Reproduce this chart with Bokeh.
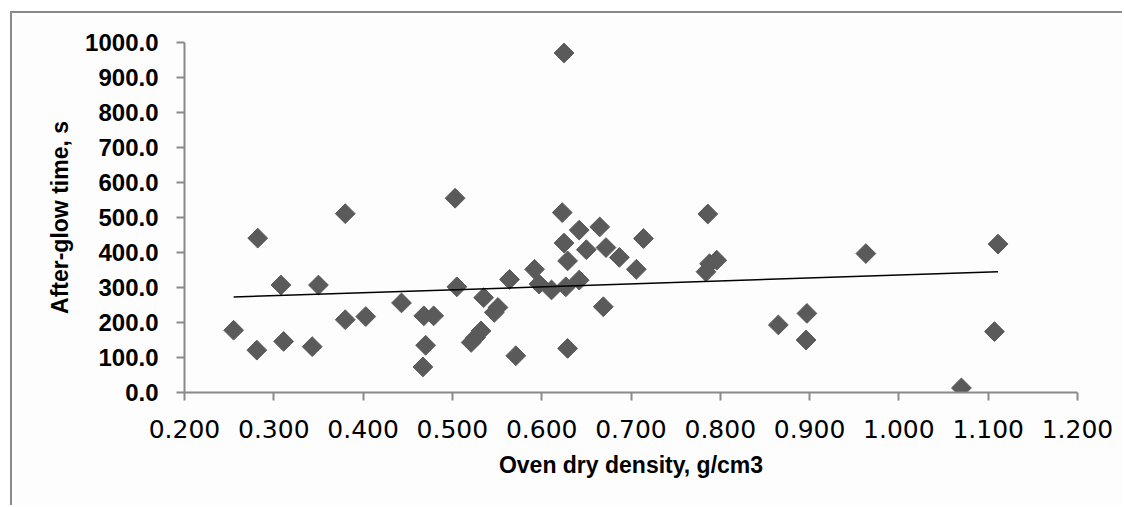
import numpy as np
from bokeh.plotting import figure
from bokeh.models import Range1d, FixedTicker, NumeralTickFormatter
from bokeh.embed import file_html
from bokeh.resources import INLINE

# Oven dry density (g/cm3) and after-glow time (s)
density = [0.255, 0.282, 0.281, 0.308, 0.311, 0.343, 0.350, 0.380, 0.380, 0.403,
           0.443, 0.468, 0.479, 0.470, 0.467, 0.503, 0.505, 0.535, 0.551, 0.547,
           0.532, 0.526, 0.521, 0.564, 0.571, 0.592, 0.597, 0.611, 0.623, 0.625,
           0.629, 0.627, 0.629, 0.642, 0.650, 0.642, 0.665, 0.672, 0.669, 0.687,
           0.706, 0.714, 0.625, 0.786, 0.784, 0.788, 0.796, 0.865, 0.897, 0.896,
           0.963, 1.070, 1.107, 1.111]
afterglow = [178, 441, 121, 307, 146, 131, 307, 511, 208, 217,
             256, 219, 219, 135, 73, 555, 302, 271, 243, 229,
             176, 157, 143, 323, 105, 352, 310, 293, 514, 427,
             376, 302, 126, 464, 408, 321, 473, 414, 245, 386,
             352, 440, 970, 510, 345, 368, 378, 193, 226, 150,
             397, 13, 174, 424]

x_ticks = [0.2, 0.3, 0.4, 0.5, 0.6, 0.7, 0.8, 0.9, 1.0, 1.1, 1.2]
y_ticks = [0, 100, 200, 300, 400, 500, 600, 700, 800, 900, 1000]

W, H = 1112, 494
p = figure(width=W, height=H, output_backend="svg", toolbar_location=None,
           x_range=Range1d(0.2, 1.2), y_range=Range1d(0, 1000))
p.styles = {"margin-left": "10px", "margin-top": "11px",
            "border-left": "2px solid #8a8a8a", "border-top": "2px solid #8a8a8a"}
p.background_fill_color = "#fdfdfd"
p.border_fill_color = "#fdfdfd"
p.outline_line_color = None
p.grid.visible = False
p.min_border_left = 172
p.min_border_top = 29
p.min_border_right = 47
p.min_border_bottom = 115

axis_color = "#8a8a8a"
for ax in (p.xaxis[0], p.yaxis[0]):
    ax.axis_line_color = axis_color
    ax.axis_line_width = 2
    ax.major_tick_line_color = axis_color
    ax.major_tick_line_width = 2
    ax.major_tick_in = 0
    ax.major_tick_out = 8
    ax.minor_tick_line_color = None
    ax.axis_label_text_font = "Liberation Sans"
    ax.axis_label_text_font_style = "bold"
    ax.axis_label_text_font_size = "23px"
    ax.axis_label_text_color = "#000000"

p.xaxis.ticker = FixedTicker(ticks=x_ticks)
p.xaxis.formatter = NumeralTickFormatter(format="0.000")
p.xaxis.major_label_text_font = "DejaVu Sans"
p.xaxis.major_label_text_font_size = "25px"
p.xaxis.major_label_text_color = "#000000"
p.xaxis.major_label_standoff = 19
p.xaxis.axis_label = "Oven dry density, g/cm3"
p.xaxis.axis_label_standoff = 11

p.yaxis.ticker = FixedTicker(ticks=y_ticks)
p.yaxis.formatter = NumeralTickFormatter(format="0.0")
p.yaxis.major_label_text_font = "Liberation Sans"
p.yaxis.major_label_text_font_style = "bold"
p.yaxis.major_label_text_font_size = "24px"
p.yaxis.major_label_text_color = "#000000"
p.yaxis.major_label_standoff = 18
p.yaxis.axis_label = "After-glow time, s"
p.yaxis.axis_label_standoff = 9

p.scatter(density, afterglow, marker="square", angle=np.pi / 4, size=14,
          fill_color="#5a5a5a", line_color="#5a5a5a")

xs = np.array(density, dtype=float)
ys = np.array(afterglow, dtype=float)
slope, intercept = np.polyfit(xs, ys, 1)
tx = [xs.min(), xs.max()]
p.line(tx, [slope * t + intercept for t in tx], line_color="#000000", line_width=1.5)

open("out.html", "w").write(file_html(p, INLINE))
